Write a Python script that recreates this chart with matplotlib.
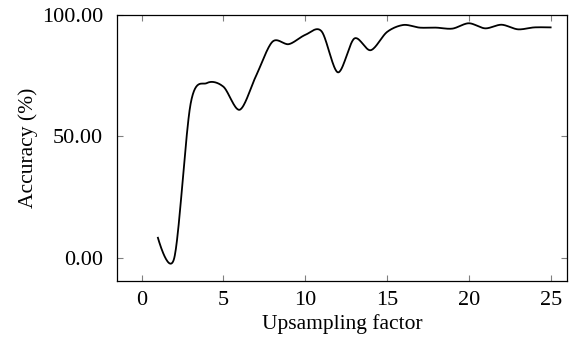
import numpy as np
import matplotlib
matplotlib.use("Agg")
import matplotlib.pyplot as plt

factor = list(range(1, 26))
accuracy = [8.3, 0.0, 63.5, 72.0, 70.5, 61.0, 75.0, 89.0, 88.0, 91.8,
            93.3, 76.4, 90.3, 85.5, 93.0, 95.9, 94.8, 94.8, 94.4, 96.6,
            94.5, 96.0, 94.1, 94.9, 94.9]
x_ticks = [0, 5, 10, 15, 20, 25]
y_ticks = [0, 50, 100]
y_tick_labels = ["0.00", "50.00", "100.00"]


def smooth(xs, ys, tension=0.55, n=30):
    xs = np.asarray(xs, float)
    ys = np.asarray(ys, float)
    f = 0.2775 * tension
    px, py = [], []
    m = len(xs)
    for i in range(m - 1):
        i0 = max(i - 1, 0)
        i3 = min(i + 2, m - 1)
        p0 = np.array([xs[i], ys[i]])
        p3 = np.array([xs[i + 1], ys[i + 1]])
        if i == 0:
            c1 = p0
        else:
            c1 = p0 + f * (np.array([xs[i + 1], ys[i + 1]]) - np.array([xs[i0], ys[i0]]))
        if i + 1 == m - 1:
            c2 = p3
        else:
            c2 = p3 - f * (np.array([xs[i3], ys[i3]]) - np.array([xs[i], ys[i]]))
        t = np.linspace(0, 1, n)[:, None]
        b = ((1 - t) ** 3) * p0 + 3 * ((1 - t) ** 2) * t * c1 + 3 * (1 - t) * t ** 2 * c2 + t ** 3 * p3
        px.extend(b[:, 0])
        py.extend(b[:, 1])
    return np.array(px), np.array(py)


plt.rcParams['font.family'] = ['Liberation Serif', 'DejaVu Serif']
plt.rcParams['mathtext.fontset'] = 'stix'

fig = plt.figure(figsize=(5.71, 3.38), dpi=100)
ax = fig.add_axes([117 / 571, 1 - 281 / 338, (567 - 117) / 571, (281 - 15) / 338])

sx, sy = smooth(factor, accuracy)
ax.plot(sx, sy, color='black', linewidth=1.3)

ax.set_xlim(-1.5, 26.0)
ax.set_ylim(-9.5, 100)
ax.set_xticks(x_ticks)
ax.set_yticks(y_ticks)
ax.set_yticklabels(y_tick_labels)
ax.tick_params(direction='in', length=4.5, width=0.8, color='#808080',
               top=True, right=True, labelsize=16)
ax.tick_params(axis='x', pad=7)
ax.tick_params(axis='y', pad=10)
for s in ax.spines.values():
    s.set_linewidth(0.9)
    s.set_color('black')

ax.set_xlabel("Upsampling factor", fontsize=15.5, labelpad=3)
ax.set_ylabel("Accuracy (%)", fontsize=15.5, labelpad=3)

fig.savefig("out.png", dpi=100)
